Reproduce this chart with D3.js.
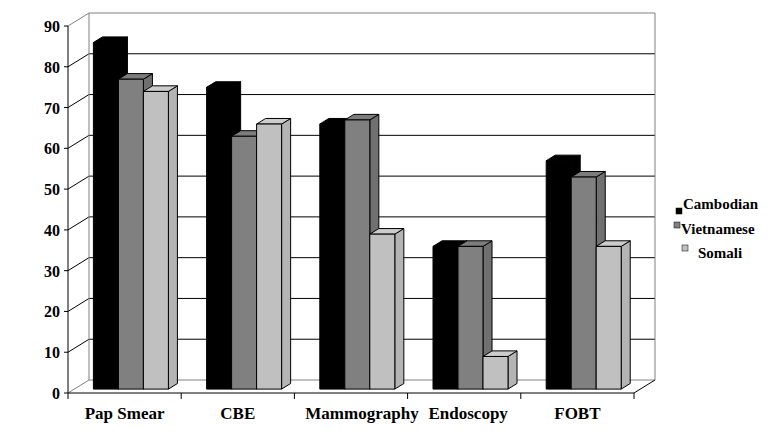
<!DOCTYPE html>
<html>
<head>
<meta charset="utf-8">
<script src="https://cdn.jsdelivr.net/npm/d3@7"></script>
<style>
  body { margin: 0; background: #fff; }
</style>
</head>
<body>
<div id="chart"></div>
<script>
// data
var categories = ["Pap Smear", "CBE", "Mammography", "Endoscopy", "FOBT"];
var seriesNames = ["Cambodian", "Vietnamese", "Somali"];
var cambodian = [85, 74, 65, 35, 56];
var vietnamese = [76, 62, 66, 35, 52];
var somali = [73, 65, 38, 8, 35];
var yTicks = [0, 10, 20, 30, 40, 50, 60, 70, 80, 90];

var width = 770, height = 446;
var DX = 21, DY = 13; // depth offset of the back wall
var FONT = "'Liberation Serif', 'Times New Roman', 'DejaVu Serif', serif";

// faces: front, top, side
var palette = {
    Cambodian: ["#000000", "#000000", "#000000"],
    Vietnamese: ["#808080", "#7c7c7c", "#707070"],
    Somali: ["#c0c0c0", "#cccccc", "#b4b4b4"]
};

var svg = d3.select("#chart").append("svg")
    .attr("width", width)
    .attr("height", height)
    .style("font-family", FONT)
    .style("font-weight", "bold");

var x = d3.scaleBand()
    .domain(categories)
    .range([68, 634]);

var y = d3.scaleLinear()
    .domain([0, 90])
    .range([393, 26]);

var inner = d3.scaleBand()
    .domain(seriesNames)
    .range([-37.5, 37.5]);

// project a front-plane point to depth z (0 = front, 1 = back wall)
function P(px, py, z) {
    return [px + z * DX, py - z * DY];
}
var line = d3.line();

var gWall = svg.append("g");

// back wall + left wall grid
yTicks.slice(1, -1).forEach(function (v) {
    var f = P(68, y(v), 0), b = P(68, y(v), 1), e = P(634, y(v), 1);
    gWall.append("path").attr("d", line([f, b, e]))
        .attr("fill", "none").attr("stroke", "#000").attr("stroke-width", 1);
});
// top tick line (90) on the side wall
gWall.append("path").attr("d", line([P(68, y(90), 0), P(68, y(90), 1)]))
    .attr("fill", "none").attr("stroke", "#808080");

// wall borders (gray)
var bl = P(68, y(0), 1), tl = P(68, y(90), 1), tr = P(634, y(90), 1), br = P(634, y(0), 1);
gWall.append("path").attr("d", line([P(68, y(0), 0), bl, br]))
    .attr("fill", "none").attr("stroke", "#808080");
gWall.append("path").attr("d", line([bl, tl, tr, br]))
    .attr("fill", "none").attr("stroke", "#808080");

// floor front + right edge
gWall.append("path").attr("d", line([P(68, y(0), 0), P(634, y(0), 0), br]))
    .attr("fill", "none").attr("stroke", "#000");

// bars
var z0 = 0.3, z1 = 0.73;
var rows = seriesNames.map(function (s, i) {
    return { name: s, values: [cambodian, vietnamese, somali][i] };
});

var gBars = svg.append("g");
categories.forEach(function (c, ci) {
    rows.forEach(function (r) {
        var cx = x(c) + x.bandwidth() / 2;
        var xl = cx + inner(r.name), xr = xl + inner.bandwidth();
        var yt = y(r.values[ci]), yb = y(0);
        var col = palette[r.name];
        var front = [P(xl, yt, z0), P(xr, yt, z0), P(xr, yb, z0), P(xl, yb, z0)];
        var top = [P(xl, yt, z0), P(xl, yt, z1), P(xr, yt, z1), P(xr, yt, z0)];
        var side = [P(xr, yt, z0), P(xr, yt, z1), P(xr, yb, z1), P(xr, yb, z0)];
        [[side, col[2]], [top, col[1]], [front, col[0]]].forEach(function (f) {
            gBars.append("path")
                .attr("d", line(f[0]) + "Z")
                .attr("fill", f[1])
                .attr("stroke", "#000")
                .attr("stroke-width", 1)
                .attr("stroke-linejoin", "round");
        });
    });
});

// front value axis
var gAxis = svg.append("g");
gAxis.append("line")
    .attr("x1", 68).attr("x2", 68)
    .attr("y1", y(90)).attr("y2", y(0) + 6)
    .attr("stroke", "#000");
gAxis.selectAll(".ytick")
    .data(yTicks)
    .enter().append("line")
    .attr("x1", 64).attr("x2", 68)
    .attr("y1", d => y(d)).attr("y2", d => y(d))
    .attr("stroke", "#000");
gAxis.selectAll(".ylab")
    .data(yTicks)
    .enter().append("text")
    .attr("x", 60)
    .attr("y", d => y(d) + 6)
    .attr("text-anchor", "end")
    .style("font-size", "16px")
    .text(d => d);

// category ticks and labels
var catEdges = categories.map(c => x(c)).concat([634]);
gAxis.selectAll(".xtick")
    .data(catEdges.slice(1))
    .enter().append("line")
    .attr("x1", d => d).attr("x2", d => d)
    .attr("y1", y(0)).attr("y2", y(0) + 6)
    .attr("stroke", "#000");
// long labels get nudged right like the original
var labelShift = { "Mammography": 11, "Endoscopy": 4 };
gAxis.selectAll(".xlab")
    .data(categories)
    .enter().append("text")
    .attr("x", d => x(d) + x.bandwidth() / 2 + (labelShift[d] || 0))
    .attr("y", 419)
    .attr("text-anchor", "middle")
    .style("font-size", "17px")
    .text(d => d);

// legend (staggered like the original)
var legendPos = [
    { sx: 676, sy: 208, tx: 683, ty: 209 },
    { sx: 674, sy: 222, tx: 681, ty: 234 },
    { sx: 682, sy: 245, tx: 698, ty: 258 }
];
var gLeg = svg.append("g");
seriesNames.forEach(function (s, i) {
    var p = legendPos[i];
    gLeg.append("rect")
        .attr("x", p.sx).attr("y", p.sy)
        .attr("width", 6).attr("height", 6)
        .attr("fill", palette[s][0])
        .attr("stroke", "#000").attr("stroke-width", 0.5);
    gLeg.append("text")
        .attr("x", p.tx).attr("y", p.ty)
        .style("font-size", "15px")
        .text(s);
});
</script>
</body>
</html>
